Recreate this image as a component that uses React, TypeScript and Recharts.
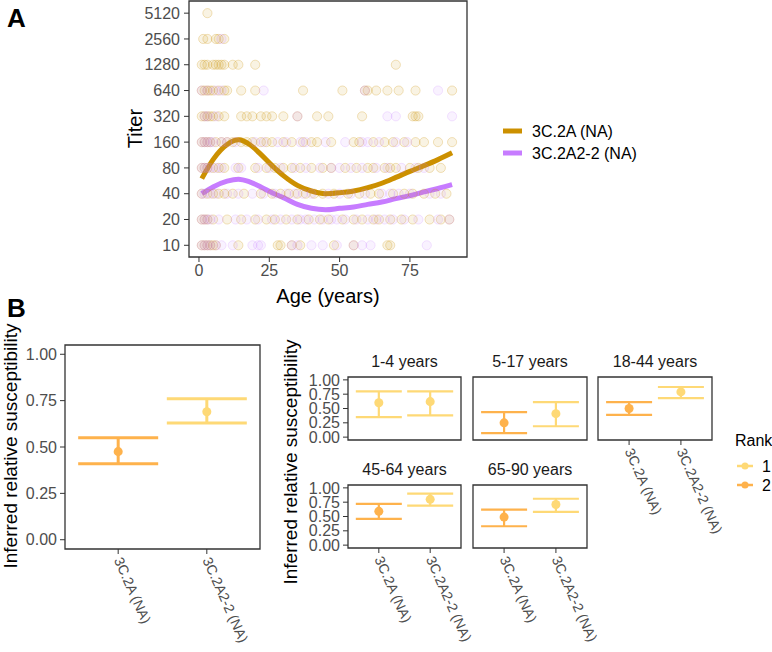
import React from 'react';
import { ComposedChart, ScatterChart, Scatter, Line, XAxis, YAxis, ZAxis, ErrorBar, ReferenceArea } from 'recharts';

const FONT = '"Liberation Sans", Arial, sans-serif';
const GOLD = '#cc9000';
const PURPLE = '#c77cff';
const RANK1 = '#fed976';
const RANK2 = '#feb24c';
const TICK = '#4d4d4d';

// panel A: titer levels and jittered ages
const titerTicks = [10, 20, 40, 80, 160, 320, 640, 1280, 2560, 5120];

const goldLevels: [number, number[]][] = [
  [5120, [3]],
  [2560, [1.5, 3, 6, 7, 9]],
  [1280, [1, 2, 3, 5, 6, 7, 8, 9, 12, 14, 20, 70]],
  [640, [1, 2, 3, 4, 5, 7, 9, 10, 15, 20, 37, 51, 59, 60, 63, 67, 71, 77, 90]],
  [320, [1, 2, 3, 4, 5, 7, 9, 15, 17, 19, 22, 24, 26, 30, 35, 42, 46, 58, 76, 77, 78]],
  [160, [1, 2, 3, 4, 6, 8, 10, 12, 15, 17, 19, 22, 24, 26, 30, 33, 37, 40, 42, 47, 55, 57, 62, 66, 69, 73, 77, 80, 85, 90]],
  [80, [1, 2, 3, 5, 7, 9, 14, 20, 24, 27, 30, 33, 36, 40, 44, 47, 52, 56, 60, 62, 66, 68, 70, 75, 78, 82, 86]],
  [40, [1, 3, 5, 7, 9, 12, 16, 22, 26, 29, 32, 35, 38, 41, 44, 48, 53, 57, 61, 64, 69, 73, 76, 80, 84, 88]],
  [20, [1, 2, 3, 5, 10, 15, 20, 24, 27, 31, 35, 39, 43, 46, 51, 55, 58, 62, 64, 68, 72, 76, 82, 86, 89]],
  [10, [1, 2, 3, 4, 5, 6, 14, 28, 29, 33, 36, 48, 55, 67, 68]],
];

const purpleLevels: [number, number[]][] = [
  [2560, [8]],
  [640, [1, 3, 6, 8, 23, 59, 85]],
  [320, [2, 3, 6, 35, 67, 70, 90]],
  [160, [1, 2, 3, 4, 5, 8, 10, 13, 20, 23, 28, 31, 36, 38, 45, 52, 58, 60, 64, 70, 74]],
  [80, [1, 2, 3, 4, 6, 8, 13, 15, 21, 25, 29, 34, 38, 43, 47, 50, 54, 58, 63, 67, 72, 77, 80]],
  [40, [1, 2, 4, 6, 10, 14, 19, 23, 27, 31, 34, 37, 40, 46, 50, 54, 59, 65, 68, 71, 75, 82, 86]],
  [20, [1, 2, 3, 4, 7, 13, 17, 21, 26, 29, 33, 36, 38, 41, 44, 47, 49, 52, 56, 60, 63, 66, 69, 73, 78, 85, 89]],
  [10, [1, 2, 3, 4, 6, 8, 12, 19, 21, 22, 33, 35, 40, 44, 49, 55, 58, 61, 81]],
];

const smoothAges = [1, 5, 10, 14, 18, 22, 26, 30, 35, 40, 45, 50, 55, 60, 65, 70, 75, 80, 85, 90];
const smoothGold = [60, 100, 150, 170, 150, 115, 85, 65, 50, 43, 40, 41, 43, 47, 53, 62, 73, 85, 100, 120];
const smoothPurple = [40, 48, 56, 59, 55, 48, 41, 36, 30, 27, 26, 27, 28, 30, 32, 35, 38, 42, 46, 51];

// panel B
const variants = ['3C.2A (NA)', '3C.2A2-2 (NA)'];
const allMid = [0.475, 0.69];
const allLow = [0.41, 0.63];
const allHigh = [0.55, 0.76];
const allRank = [2, 1];

const ageGroups = ['1-4 years', '5-17 years', '18-44 years', '45-64 years', '65-90 years'];
const groupMid = [[0.6, 0.62], [0.25, 0.41], [0.5, 0.79], [0.59, 0.8], [0.49, 0.71]];
const groupLow = [[0.35, 0.38], [0.07, 0.19], [0.39, 0.68], [0.46, 0.69], [0.33, 0.58]];
const groupHigh = [[0.8, 0.8], [0.435, 0.61], [0.61, 0.875], [0.72, 0.9], [0.62, 0.81]];
const groupRank = [[1, 1], [2, 1], [2, 1], [2, 1], [2, 1]];

const toPoints = (levels: [number, number[]][]) =>
  levels.flatMap(([titer, ages]) => ages.map(age => ({ age, titer })));

const toRows = (mid: number[], low: number[], high: number[], rank: number[]) =>
  mid.map((m, i) => ({ x: i + 1, y: m, err: [m - low[i], high[i] - m], rank: rank[i] }));

const CatTick = (props: any) => {
  const { x, y, payload } = props;
  return (
    <text x={x} y={y} dy="0.35em" transform={`rotate(66 ${x} ${y})`} textAnchor="start"
      fontSize={14} fill={TICK} fontFamily={FONT}>
      {variants[payload.value - 1]}
    </text>
  );
};

const tickStyle = { fontSize: 16, fill: TICK, fontFamily: FONT };

const PanelA = () => {
  const gold = toPoints(goldLevels);
  const purple = toPoints(purpleLevels);
  const goldLine = smoothAges.map((age, i) => ({ age, titer: smoothGold[i] }));
  const purpleLine = smoothAges.map((age, i) => ({ age, titer: smoothPurple[i] }));
  return (
    <ComposedChart width={480} height={310} margin={{ top: 1, right: 13, bottom: 0, left: 0 }}>
      <XAxis type="number" dataKey="age" domain={[-3.55, 95.3]} ticks={[0, 25, 50, 75]} allowDataOverflow
        height={53} tickSize={5} tickMargin={3} axisLine={false} tickLine={{ stroke: '#333' }} tick={tickStyle} />
      <YAxis type="number" dataKey="titer" scale="log" domain={[7.3, 7100]} ticks={titerTicks} allowDataOverflow interval={0}
        width={189} tickSize={5} tickMargin={4} axisLine={false} tickLine={{ stroke: '#333' }} tick={tickStyle} />
      <ZAxis range={[66, 66]} />
      <Scatter data={gold} fill={GOLD} fillOpacity={0.11} stroke={GOLD} strokeOpacity={0.25} isAnimationActive={false} />
      <Scatter data={purple} fill={PURPLE} fillOpacity={0.1} stroke={PURPLE} strokeOpacity={0.2} isAnimationActive={false} />
      <Line data={goldLine} dataKey="titer" type="monotone" stroke={GOLD} strokeWidth={5} dot={false} isAnimationActive={false} />
      <Line data={purpleLine} dataKey="titer" type="monotone" stroke={PURPLE} strokeWidth={5} dot={false} isAnimationActive={false} />
      <ReferenceArea x1={-3.55} x2={95.3} y1={7.3} y2={7100} fill="none" stroke="#333" strokeWidth={1.3} ifOverflow="visible" />
    </ComposedChart>
  );
};

type Rect = { x: number; y: number; w: number; h: number };

const SusChart = ({ rows, rect, showY, showX, capHalf, barWidth, dotSize, yw, xh }: {
  rows: any[]; rect: Rect; showY: boolean; showX: boolean; capHalf: number; barWidth: number; dotSize: number; yw: number; xh: number;
}) => {
  const left = rect.x - (showY ? yw : 0);
  const top = rect.y - 2;
  const width = (showY ? yw : 0) + rect.w + 2;
  const height = 2 + rect.h + (showX ? xh : 2);
  const r1 = rows.filter(r => r.rank === 1);
  const r2 = rows.filter(r => r.rank === 2);
  return (
    <div style={{ position: 'absolute', left, top }}>
      <ScatterChart width={width} height={height} margin={{ top: 2, right: 2, bottom: showX ? 0 : 2, left: 0 }}>
        <XAxis type="number" dataKey="x" domain={[0.4, 2.6]} ticks={[1, 2]} allowDataOverflow hide={!showX} interval={0}
          height={xh} tickSize={5} tickMargin={4} axisLine={false} tickLine={{ stroke: '#333' }} tick={<CatTick />} />
        <YAxis type="number" dataKey="y" domain={[-0.05, 1.05]} ticks={[0, 0.25, 0.5, 0.75, 1]} allowDataOverflow hide={!showY}
          interval={0} width={yw} tickSize={5} tickMargin={3} axisLine={false} tickLine={{ stroke: '#333' }} tick={tickStyle}
          tickFormatter={(v: number) => v.toFixed(2)} />
        <ZAxis range={[dotSize, dotSize]} />
        <Scatter data={r1} fill={RANK1} isAnimationActive={false}>
          <ErrorBar dataKey="err" direction="y" width={capHalf} stroke={RANK1} strokeWidth={barWidth} isAnimationActive={false} />
        </Scatter>
        <Scatter data={r2} fill={RANK2} isAnimationActive={false}>
          <ErrorBar dataKey="err" direction="y" width={capHalf} stroke={RANK2} strokeWidth={barWidth} isAnimationActive={false} />
        </Scatter>
        <ReferenceArea x1={0.4} x2={2.6} y1={-0.05} y2={1.05} fill="none" stroke="#333" strokeWidth={1.3} ifOverflow="visible" />
      </ScatterChart>
    </div>
  );
};

const facetRects: Rect[] = [
  { x: 348, y: 377, w: 113, h: 63 },
  { x: 473, y: 377, w: 114, h: 63 },
  { x: 598, y: 377, w: 114, h: 63 },
  { x: 348, y: 485, w: 113, h: 63 },
  { x: 473, y: 485, w: 114, h: 63 },
];
const facetShowY = [true, false, false, true, false];
const facetShowX = [false, false, true, true, true];

export default function App() {
  const overall = toRows(allMid, allLow, allHigh, allRank);
  return (
    <div style={{ position: 'absolute', left: 0, top: 0, width: 772, height: 652, background: '#fff', fontFamily: FONT, overflow: 'hidden' }}>
      <style>{'svg { overflow: visible; }'}</style>
      <div style={{ position: 'absolute', left: 0, top: 0 }}>
        <PanelA />
      </div>
      <SusChart rows={overall} rect={{ x: 65, y: 345, w: 195, h: 204 }} showY showX capHalf={40} barWidth={3}
        dotSize={64} yw={65} xh={100} />
      {ageGroups.map((g, i) => (
        <SusChart key={g} rows={toRows(groupMid[i], groupLow[i], groupHigh[i], groupRank[i])} rect={facetRects[i]}
          showY={facetShowY[i]} showX={facetShowX[i]} capHalf={23} barWidth={2.2} dotSize={40} yw={66} xh={100} />
      ))}
      <svg width={772} height={652} style={{ position: 'absolute', left: 0, top: 0, pointerEvents: 'none' }} fontFamily={FONT}>
        <text x={7} y={27} fontSize={26} fontWeight="bold" fill="#000">A</text>
        <text x={7} y={317} fontSize={26} fontWeight="bold" fill="#000">B</text>
        <text x={135} y={128.5} fontSize={20} fill="#000" textAnchor="middle" dominantBaseline="central"
          transform="rotate(-90 135 128.5)">Titer</text>
        <text x={328} y={303} fontSize={20} fill="#000" textAnchor="middle">Age (years)</text>
        <line x1={503} x2={522} y1={131} y2={131} stroke={GOLD} strokeWidth={5} />
        <text x={532} y={131} fontSize={16} fill="#000" dominantBaseline="central">3C.2A (NA)</text>
        <line x1={503} x2={522} y1={153} y2={153} stroke={PURPLE} strokeWidth={5} />
        <text x={532} y={153} fontSize={16} fill="#000" dominantBaseline="central">3C.2A2-2 (NA)</text>
        <text x={10} y={446} fontSize={19} fill="#000" textAnchor="middle" dominantBaseline="central"
          transform="rotate(-90 10 446)">Inferred relative susceptibility</text>
        <text x={290} y={462} fontSize={19} fill="#000" textAnchor="middle" dominantBaseline="central"
          transform="rotate(-90 290 462)">Inferred relative susceptibility</text>
        {ageGroups.map((g, i) => (
          <text key={g} x={facetRects[i].x + facetRects[i].w / 2} y={facetRects[i].y - 10} fontSize={16}
            fill="#1a1a1a" textAnchor="middle">{g}</text>
        ))}
        <text x={735} y={446} fontSize={16} fill="#000">Rank</text>
        <line x1={737} x2={753} y1={466} y2={466} stroke={RANK1} strokeWidth={2.5} />
        <circle cx={745} cy={466} r={3.5} fill={RANK1} />
        <text x={762} y={466} fontSize={16} fill="#000" dominantBaseline="central">1</text>
        <line x1={737} x2={753} y1={485} y2={485} stroke={RANK2} strokeWidth={2.5} />
        <circle cx={745} cy={485} r={3.5} fill={RANK2} />
        <text x={762} y={485} fontSize={16} fill="#000" dominantBaseline="central">2</text>
      </svg>
    </div>
  );
}
